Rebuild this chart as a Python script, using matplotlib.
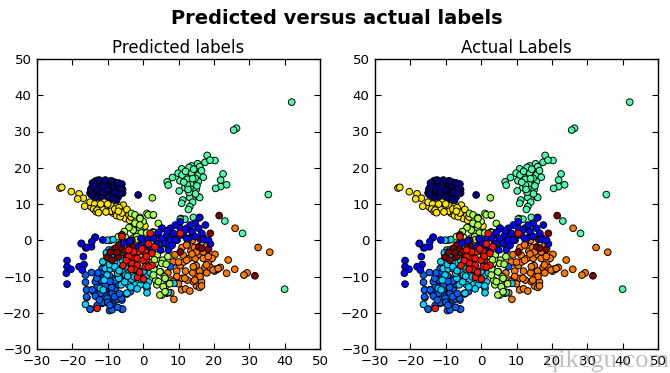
import matplotlib
matplotlib.use('Agg')
import matplotlib.pyplot as plt
import numpy as np

# points, one group per label
navy_x = [-15, -14.5, -14, -13.5, -13, -12, -11, -10, -9.5, -8, -7.8, -6, -5.8, -5.8, -7, -8, -9, -9.5, -10.5, -11,
          -12, -12.5, -13, -14, -11, -9.5, -10, -8, -7, -12, -13, -14.3, -11.5, -9, -13.5, -10.8, -12, -7.5, -1.4,
          -14.8, -13.8, -12.8, -11.7, -10.3, -9.2, -8.4, -7.3, -6.5, -6.7, -8.7, -10, -11.3, -12.4, -13.4, -14.6, -9, -10.7, -8, -7]
navy_y = [13, 14.5, 15.5, 16.3, 16.5, 16, 16.3, 16, 16.2, 16, 15, 15.5, 14, 13, 13.5, 12.5, 13, 14.5, 15, 14,
          13, 14.5, 12.5, 13.2, 12, 11.5, 13, 14, 12, 15, 15, 15.8, 15.5, 15.3, 14, 13, 11.8, 11, 12.5,
          14, 14.8, 13.8, 13.4, 14, 12.2, 15, 14.8, 14.5, 12.8, 11.5, 11.8, 15, 16.6, 11.8, 12.5, 16.4, 16.6, 13.2, 15.8]

yellow_x = [-23.5, -23, -20.3, -18.1, -16.9, -18.5, -16.5, -14.7, -15, -13.7, -14, -13.3, -12.5, -11, -10, -9.5,
            -8.5, -9, -7.5, -9, -7.7, -7.5, -6.5, -5.5, -5.5, -5, -4, -5.6, -11.5, -12, -6.5, -3.8, 0.5,
            -13, -10.5, -8, -6.8, -6, -4.6, -7, -10, -12.6, -3.4]
yellow_y = [14.4, 14.6, 13.4, 12.8, 11.6, 11.4, 9.4, 9.2, 10.5, 10, 8.6, 7.9, 9, 10.5, 9, 8.1,
            7.5, 9.5, 9.3, 8, 7.6, 6.8, 8, 8.3, 7, 6, 7, 9.7, 8.5, 10, 6.5, 5.5, 3.9,
            8.3, 7.8, 8.6, 9, 7.5, 8.5, 8, 10, 7.6, 6.4]

aqua_x = [10.9, 9.9, 8.3, 6.8, 7.1, 10.4, 11.8, 12.5, 13.7, 13, 14.6, 15.4, 16, 13.7, 15.6, 17, 15.6, 13.5, 11.8, 10.2,
          13.7, 15, 15.6, 13.2, 11.2, 10.9, 14, 13.2, 12.8, 16, 10.7, 11.8, 14.2, 22.6, 21.9, 23.6, 21.9, 20.5, 35.4,
          18.1, 17.5, 20.3, 18.9, 42, 26.4, 25.6, 23.1, 28.1, 40, 9, 12.3, 13.7, 10.5,
          11, 12, 12.5, 14.7, 15.2, 16.5, 14.8, 13, 11.5, 14.3, 14, 12.7]
aqua_y = [19.7, 18.5, 17.3, 16.1, 15.2, 16.4, 18, 16.8, 20.5, 20.1, 19.4, 21.1, 20.3, 18.5, 18, 17.4, 16.2, 15.5, 14.5, 13.6,
          14, 14, 12, 11.8, 11.1, 10.2, 10.5, 9.3, 8.5, 11.8, 6, 5.8, 6.3, 18.3, 16.6, 15.3, 14.8, 14.3, 12.6,
          23.4, 21.5, 22, 22.1, 38.1, 30.9, 30.4, 5.3, 1.9, -13.5, -6.2, 3.3, 3.3, 5.8,
          18, 19, 15.3, 17.1, 15, 19.2, 12.8, 13.2, 16, 19.6, 17, 14]

orange_x = [9.5, 10.5, 11, 11.5, 12, 12.5, 13, 13.5, 14, 14.5, 14.7, 15, 15.5, 16, 16, 16.5, 17, 17.5, 17.5,
            18, 18, 18.5, 11, 12.5, 14, 15.1, 16, 14.2, 10, 8, 7, 8.5, 9, 10.9, 12, 13.2, 8.7, 7.8,
            26, 32.5, 35.8, 20.3, 24.05, 21, 20.2, 21.8, 25.9, 23.6, 29.4, 28.5, 19.5, 19, 20.5,
            12.3, 15.1, 17, 17.9, 16.1, 14.6, 16.5, 9.5, 8.5, 11.8, 14.2, 11.3, 12.3, 19.8, 21.2, 10, 13.8, 18.4]
orange_y = [-8.5, -7, -10.5, -6, -8.5, -11, -5, -3, -9, -2, -5, -7, -10, -8.5, -4, -11.5, -5, -7.5, -3,
            -9, -1.5, -6, -2, -1, 0, -12.6, -13, -11.4, -12, -11, -9, -6, -4, -13.7, -13.4, -14, -16.3, -14.5,
            3.3, -2, -3.3, -3.9, -5.45, -8, -8.5, -7.5, -8, -9.1, -9, -9.6, -5, -7.5, -8,
            -1.3, -3.2, -3.2, -6.8, -10, -11, -12.6, -10, -11.4, -10.5, -7.3, -4.1, -5.5, -8.2, -7.8, -6, -3.8, -4.5]

cyan_x = [-9.7, -10.2, -11.4, -10.7, -9.3, -7.9, -6.4, -5.5, -4.1, -2.7, -3.2, -2.2, -4.1, 1.1, 1.1, 0.8, -0.8, -6.2,
          -4.6, -12.1, -11.3, -16.3, -9.3, -8.5, -10.2, 8.7, -5, -6.9, -10.2, -8.8, -4.8, -3.2, -1.3, 6.7, 2, 3.2,
          -7, -5.8, -3.8, -1.8, 0, 1.5, -0.5, -8.2, -9.5, -7.2, -5.2, -2.5, -11, -8, -6.8, -4.4, 1, 7.1, -1.7, -3.5,
          -10.4, -9, -6.2, -1.2]
cyan_y = [-2.7, -4.1, -5.9, -7.8, -7.9, -7.9, -7.8, -8.7, -8.4, -9.1, -11, -12.3, -12.3, -13.3, -14.5, -10, -12.3, -12.3,
          -14.6, -13.3, -13.7, -17.7, 0, 0.2, 0, -11.9, -9.6, -10.5, -9.6, -2.7, -7.3, -7.8, -8.7, -14.6, -9, -7,
          -6.3, -5.6, -6.2, -7.3, -8.6, -11.5, -10.8, -6.1, -6.7, -9.1, -11.5, -10.1, -11, -7.3, -8.4, -9.9, -12.6, -14.4, -13.4, -12.9,
          -3.5, -4.6, -3.4, -9.4]

dodger_x = [-16.3, -16.3, -15.9, -14.5, -15.9, -14.9, -11.6, -10.2, -8.8, -7.9, -9.5, -8.8, -6, -7.4, -6, -4.6, -11.6, -11.2,
            -12.1, -10.2, -8.8, -9.7, -8.8, -10.7, -13, -13.5, -14, -7.9, -6.9, -6, -10.2, -9.3, -11.6, -5, -3.6, 7.7,
            -14.6, -13.1, -16, -14.4, -16, -15, -13, -11.5, -10, -9.4, -5.8, -7.3, -6.1, -4.7, -8.9, -10.8,
            -12.7, -11, -9.5, -8, -5.5, -12, -10.7, -9.4, -8.1, -6.7, -13.5, -7.2, -12.4]
dodger_y = [-9.6, -11.6, -13.7, -13.7, -15.8, -19, -17.4, -17.2, -17.4, -16.5, -19.4, -19.2, -19, -16, -16.5, -14.8, -7.8, -10,
            -11, -11.9, -10.5, -13.7, -14.6, -15.1, -12.8, -11.4, -14.2, -13.3, -12.3, -11.4, -16, -13, -12.8, -11, -14.2, -7.3,
            -8.9, -10.5, -13.7, -13.7, -15.6, -19, -18, -17.2, -17.1, -17.9, -19, -16.2, -16, -14.7, -13, -13.7,
            -9, -8.8, -9.8, -11.2, -9.6, -14.6, -12.4, -11.3, -15.6, -14.7, -15.4, -18.5, -16.5]

lime_x = [-3.3, -2.3, -0.9, 1.1, 2.8, 4.3, -1.5, 0, -2.5, -1, -2, -0.5, 1, 2.8, 3, -0.5, -3, -5, -6, -3.5, -2, -0.5, 1, 2.5,
          -4.5, 4, 5.5, 7, 2.6, 5.5, 7, 4.9, 3.9, 5.3, 3.6, 6.3, 5.3, 3.4, 4.4, 6, 7.5, 3, -1, 1.5, -7,
          3.8, 4.75, 6.2, 4.3, 5.7, 4.75, 6.2, 2.9, 0, -1.8, -0.9, 1.45, 2.9, -2.3, -0.9, -2.8, 2.9, 2.4, 6.5, 3.2,
          -4, -1.6, 0.6, -5.3]
lime_y = [7.4, 7, 6.3, 7.4, 6.9, 4.65, 4.5, 5.2, 4, 3.2, 2, 2, 2, 2.3, 1, 0.5, 0.5, 0.8, -0.5, -1.5, -2, -1, -1.5, -3,
          -2, -4, -2.5, -1, 11.7, -5.5, -4.5, -8.7, -12.3, -15.1, -11, -12.6, -6.4, -6.4, -0.9, -10, -12, -8, -4.5, -6, 1,
          -1.3, -8.7, -10.5, -11.4, -12.8, -15.1, -14.2, -9.6, -0.9, 1, 6, 7, 7, 4.7, 4.2, 2.8, 2.1, -0.9, -6.6, -5.4,
          3.5, 0.2, -2.6, 2.4]

dark_x = [-10.2, -8.8, -6.9, -6.9, -7.9, -6, -5.5, -6, -4.1, -3.2, 10.5, 16.2, 15.7, 19, 17.1, 18.5, 16.6, 21.5, 31.6, -4.6, -2.7, 14,
          -9.3, -7.4, -5.1, -3.8]
dark_y = [-4.7, -5.5, -4.5, -1.3, -2.2, -2.5, -0.4, 1.5, -0.9, 0, -3.2, 0.25, -1.8, 1.9, 0.7, -2.5, -2.2, 6.8, -9.8, -4.5, -1.8, 1.5,
          -3.3, -3.4, -3.1, -2.6]

red_x = [-6, -3.2, -1.7, 1, -1.3, 2.5, 0.6, 0.1, -1.6, -3.2, -2.7, 0.6, 2, -4.1, 10.5, 2.5, -4.1, -1.7, 0, -13, -2.5, 1.5,
         -4.8, -3.4, -0.4, 1.5, 3.3, -1, 0.9, -5.7]
red_y = [1, -5, -5, -5.3, -3.2, -3.6, -7.3, -10.7, -10.2, -6.4, -3.2, -3.2, 1.9, -4.5, 1.9, -6.9, -2.7, -6.9, -5.5, -18.8, -8, -1,
         -5.6, -8, -2.4, -7.4, -1.8, -8.8, -4.4, -7]

blue_x = [-21.5, -21.5, -20.4, -21.7, -21.5, -17.4, -16.2, -14.6, -13.6, -11.4, -16.9, -16.7, -18.1, -17.2, -13.5, -14.5, -17.5, -15.9,
          5.3, 6.7, 7.7, 9.1, 10.5, 16, 14.7, 17.6, 13.8, 15.7, 16.6, 11.4, 9.6, 7.7, 5.8, 3.9, 2, 0.1, -1.3, 4.9, 0.6, 1.6, 3.5,
          6.3, 8.6, 12.9, 17, 10.5, 11.9, 14.7, 13.3, 7.2, 15.9, 19, 18.5,
          5.4, 5.2, 6.2, 7.6, 9, 10.4, 12.3, 3, 1, -0.6, 4.4, 6.8, 8.2, -3.8, -5.5, -2.2]
blue_y = [-5.6, -7.3, -8, -9.1, -12.1, -0.9, -2.1, -1.8, 0.8, 0.07, -4.5, -6.7, -7.3, -8.2, 0.8, -0.4, -0.9, -2,
          3.3, 1.4, 3.3, 4.2, 5.1, 6.3, 4.7, 4.2, 2.4, 3.3, 1.9, 1.4, 0, 0, 0, -0.9, -1.8, -0.9, -1.8, -2.7, -2.2, 0.5, 1.4,
          -0.4, 1.9, 0.5, 0.2, 3.3, 2.9, 1, 4.2, -2.7, 6.2, -1, 0,
          3.3, 0.5, -0.9, 0.06, 0.06, 1.4, 0.5, 0.6, -3, 0.4, 2.2, 2.6, -1.4, -0.2, -0.8, -3.8]

# groups in drawing order, value is the label
groups = [(navy_x, navy_y, 0), (yellow_x, yellow_y, 6), (aqua_x, aqua_y, 4), (orange_x, orange_y, 7),
          (dodger_x, dodger_y, 2), (cyan_x, cyan_y, 3), (lime_x, lime_y, 5), (dark_x, dark_y, 9),
          (blue_x, blue_y, 1), (red_x, red_y, 8)]

xs = np.concatenate([g[0] for g in groups])
ys = np.concatenate([g[1] for g in groups])
labels = np.concatenate([[g[2]] * len(g[0]) for g in groups])

fig = plt.figure(figsize=(6.7, 3.73), dpi=100)
fig.suptitle('Predicted versus actual labels', fontsize=14, fontweight='bold', x=0.503, y=0.977)

for left, title in [(37, 'Predicted labels'), (375, 'Actual Labels')]:
    ax = fig.add_axes([left / 670, 1 - 349 / 373, 283 / 670, 290 / 373])
    ax.scatter(xs, ys, c=labels, cmap='jet', vmin=0, vmax=9, s=23, edgecolors='black', linewidths=0.7)
    ax.set_xlim(-30, 50)
    ax.set_ylim(-30, 50)
    ax.set_xticks(np.arange(-30, 51, 10))
    ax.set_yticks(np.arange(-30, 51, 10))
    ax.tick_params(direction='in', top=True, right=True, length=4, width=0.8, labelsize=9.6, pad=4)
    ax.set_title(title, fontsize=12, pad=4)
    for s in ax.spines.values():
        s.set_linewidth(1.0)

fig.text(0.999, 0.004, 'qikegu.com', ha='right', va='bottom', fontsize=19, family='Liberation Serif',
         color='gray', alpha=0.5)

fig.savefig('out.png', dpi=100)
